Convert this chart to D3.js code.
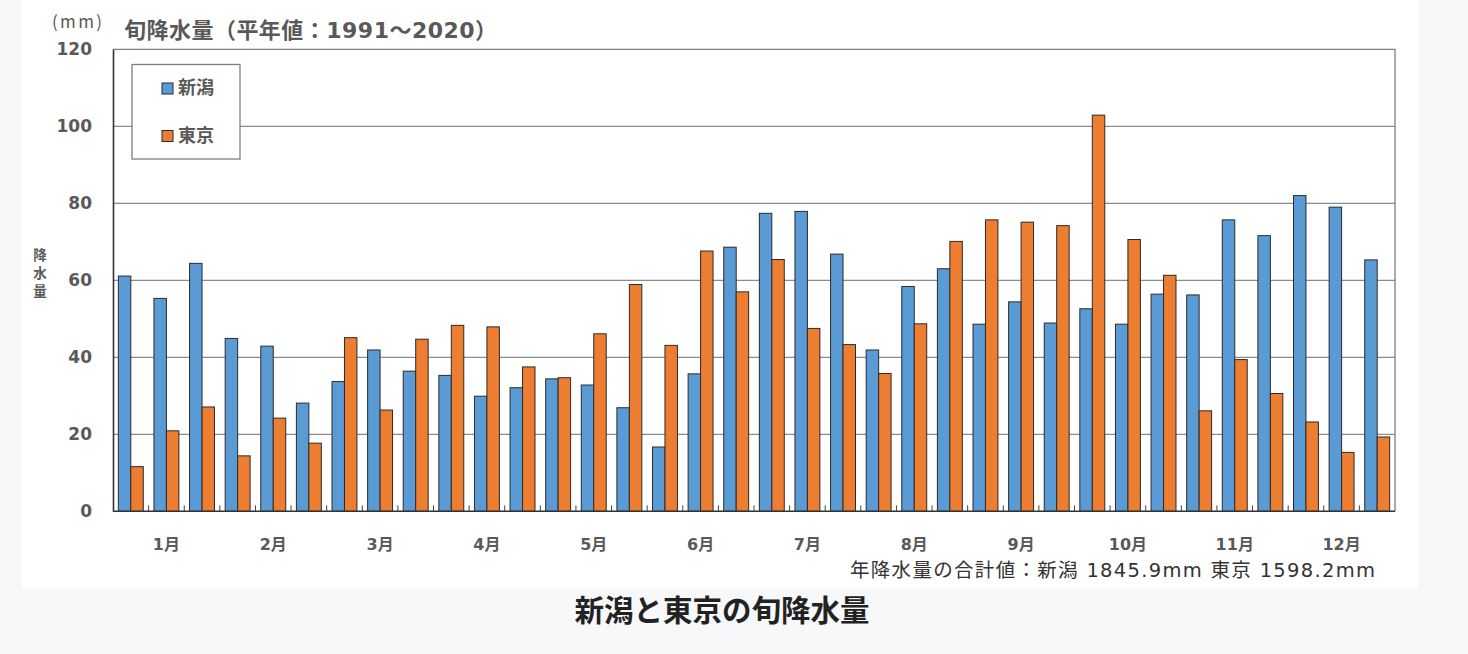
<!DOCTYPE html>
<html><head><meta charset="utf-8">
<script src="https://cdn.jsdelivr.net/npm/d3@7"></script>
<style>
html,body{margin:0;padding:0;background:#f7f8fa;}
svg{display:block;}
</style></head>
<body>
<svg id="c" width="1468" height="654"></svg>
<script>
const months = ["1月","2月","3月","4月","5月","6月","7月","8月","9月","10月","11月","12月"];
const series = ["新潟","東京"];
const niigata = [61.1,55.3,64.4, 44.9,42.9,28.1, 33.7,41.9,36.4, 35.3,29.9,32.1, 34.4,32.8,26.9, 16.7,35.7,68.6,
                 77.4,77.9,66.8, 41.9,58.4,63.0, 48.6,54.4,48.9, 52.6,48.6,56.4, 56.2,75.7,71.6, 82.0,79.0,65.3];
const tokyo   = [11.6,20.9,27.1, 14.4,24.2,17.7, 45.1,26.3,44.7, 48.3,47.9,37.5, 34.7,46.1,58.9, 43.1,67.6,57.0,
                 65.4,47.5,43.3, 35.8,48.7,70.1, 75.7,75.1,74.2, 102.9,70.6,61.3, 26.1,39.4,30.6, 23.2,15.3,19.3];
const yTicks = [0,20,40,60,80,100,120];
const colors = ["#5b9bd5","#ed7d31"];

const svg = d3.select("#c");
const font = "'Noto Sans CJK JP','Noto Sans',sans-serif";
const wfont = "'DejaVu Sans','Noto Sans CJK JP',sans-serif";
svg.append("rect").attr("x",22).attr("y",0).attr("width",1396).attr("height",588).attr("fill","#fff");

const L=113, R=1395, T=49.3, B=511.3;
const dek = d3.range(36);
const x = d3.scaleBand().domain(dek).range([L,R]).paddingInner(0.3).paddingOuter(0.15);
const xs = d3.scaleBand().domain([0,1]).range([0,x.bandwidth()]);
const y = d3.scaleLinear().domain([0,120]).range([B,T]);

// gridlines
svg.append("g").selectAll("line").data(yTicks.filter(v=>v>0 && v<120)).join("line")
  .attr("x1",L).attr("x2",R).attr("y1",d=>y(d)).attr("y2",d=>y(d))
  .attr("stroke","#8c8c8c").attr("stroke-width",1.3);
// frame top/right
svg.append("path").attr("d",`M${L},${T}H${R}V${B}`).attr("fill","none").attr("stroke","#7f7f7f").attr("stroke-width",1.3);

// bars
const data = dek.map(i=>[niigata[i],tokyo[i]]);
const g = svg.append("g");
g.selectAll("g").data(data).join("g").attr("transform",(d,i)=>`translate(${x(i)},0)`)
  .selectAll("rect").data(d=>d).join("rect")
  .attr("x",(d,j)=>xs(j)).attr("width",xs.bandwidth())
  .attr("y",d=>y(d)).attr("height",d=>B-y(d))
  .attr("fill",(d,j)=>colors[j]).attr("stroke","#2b2b2b").attr("stroke-width",1);

// y axis
const ya = svg.append("g").attr("transform",`translate(${L},0)`)
  .call(d3.axisLeft(y).tickValues(yTicks).tickSize(0).tickPadding(21));
ya.select(".domain").attr("stroke","#333").attr("stroke-width",1.6);
ya.selectAll("text").attr("font-family","'DejaVu Sans',Verdana,sans-serif").attr("font-size",17).attr("font-weight","bold").attr("fill","#595959");

// x axis baseline & dekad ticks
const step = x.step();
const bounds = d3.range(37).map(i=>L + step*i);
svg.append("g").selectAll("line").data(bounds.slice(1,36)).join("line")
  .attr("x1",d=>d).attr("x2",d=>d).attr("y1",B).attr("y2",B-6).attr("stroke","#444").attr("stroke-width",1);
svg.append("line").attr("x1",L).attr("x2",R).attr("y1",B).attr("y2",B).attr("stroke","#333").attr("stroke-width",1.6);

// month labels
svg.append("g").selectAll("text").data(months).join("text")
  .attr("x",(d,i)=>x(i*3+1)+x.bandwidth()/2).attr("y",550)
  .attr("text-anchor","middle").attr("font-family",wfont).attr("font-size",16).attr("font-weight","bold").attr("fill","#595959")
  .text(d=>d);

// titles
svg.append("text").attr("x",52).attr("y",28).attr("font-family",font).attr("font-size",17).attr("fill","#595959")
  .attr("textLength",50).attr("lengthAdjust","spacing").text("(mm)");
svg.append("text").attr("x",124).attr("y",38).attr("font-family",wfont).attr("font-size",22).attr("font-weight","bold").attr("fill","#595959")
  .attr("textLength",373).attr("lengthAdjust","spacing")
  .text("旬降水量（平年値：1991〜2020）");
const yl = svg.append("text").attr("font-family",font).attr("font-size",13.5).attr("font-weight","bold").attr("fill","#595959").attr("text-anchor","middle");
["降","水","量"].forEach((c,i)=>yl.append("tspan").attr("x",40).attr("y",260+i*18).text(c));

// legend
svg.append("rect").attr("x",132).attr("y",64.5).attr("width",108).attr("height",94.5).attr("fill","#fff").attr("stroke","#7f7f7f").attr("stroke-width",1.3);
const lg = svg.append("g").selectAll("g").data(series).join("g").attr("transform",(d,i)=>`translate(162,${83+i*47.5})`);
lg.append("rect").attr("width",11).attr("height",11).attr("fill",(d,i)=>colors[i]).attr("stroke","#2b2b2b").attr("stroke-width",1);
lg.append("text").attr("x",16).attr("y",11).attr("font-family",font).attr("font-size",18).attr("font-weight","bold").attr("fill","#595959").text(d=>d);

// annotation
svg.append("text").attr("x",1375).attr("y",577).attr("text-anchor","end").attr("font-family",wfont).attr("font-size",19.5).attr("fill","#333")
  .attr("textLength",525).attr("lengthAdjust","spacing")
  .text("年降水量の合計値：新潟 1845.9mm 東京 1598.2mm");
// caption
svg.append("text").attr("x",722).attr("y",621).attr("text-anchor","middle").attr("font-family",font).attr("font-size",29.5).attr("font-weight","bold").attr("fill","#222")
  .text("新潟と東京の旬降水量");
</script>
</body></html>
